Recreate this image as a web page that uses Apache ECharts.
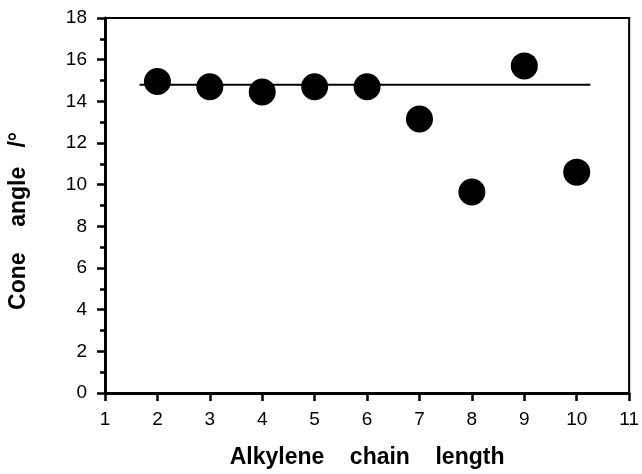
<!DOCTYPE html>
<html>
<head>
<meta charset="utf-8">
<script src="https://cdn.jsdelivr.net/npm/echarts@6/dist/echarts.min.js"></script>
<style>
  html, body { margin: 0; padding: 0; background: #fff; }
  #chart { width: 642px; height: 474px; }
</style>
</head>
<body>
<div id="chart"></div>
<script>
// 烷基链长度与锥角
const chainLength = [2, 3, 4, 5, 6, 7, 8, 9, 10]
const coneAngle = [14.95, 14.7, 14.45, 14.7, 14.7, 13.15, 9.65, 15.7, 10.6]
// 水平参考线两端
const refLineX = [1.66, 10.26]
const refLineY = [14.8, 14.8]

const font = 'Liberation Sans, Arial, Helvetica, sans-serif'
const chart = echarts.init(document.getElementById('chart'), null, { renderer: 'canvas' })

const option = {
  animation: false,
  backgroundColor: '#fff',
  grid: { left: 105, top: 18, right: 11, bottom: 80, show: true, borderColor: '#000', borderWidth: 2 },
  xAxis: {
    type: 'value',
    min: 1,
    max: 11,
    interval: 1,
    splitLine: { show: false },
    axisLine: { lineStyle: { color: '#000', width: 3 } },
    axisTick: { inside: false, length: 8, lineStyle: { color: '#000', width: 2.5 } },
    axisLabel: { color: '#000', fontSize: 19, fontFamily: font, margin: 17 },
    name: 'Alkylene    chain    length',
    nameLocation: 'middle',
    nameGap: 53,
    nameTextStyle: { color: '#000', fontSize: 23, fontWeight: 'bold', fontFamily: font }
  },
  yAxis: {
    type: 'value',
    min: 0,
    max: 18,
    interval: 2,
    splitLine: { show: false },
    axisLine: { lineStyle: { color: '#000', width: 3 } },
    axisTick: { inside: false, length: 8, lineStyle: { color: '#000', width: 2.5 } },
    minorTick: { show: true, splitNumber: 2, length: 5, lineStyle: { color: '#000', width: 2.5 } },
    axisLabel: { color: '#000', fontSize: 19, fontFamily: font, margin: 18 }
  },
  graphic: [
    {
      type: 'text',
      left: 7,
      top: 132,
      rotation: Math.PI / 2,
      style: {
        text: 'Cone    angle   /°',
        fill: '#000',
        font: 'bold 23px ' + font
      }
    }
  ],
  series: [
    {
      type: 'line',
      data: refLineX.map((x, i) => [x, refLineY[i]]),
      symbol: 'none',
      lineStyle: { color: '#000', width: 2 },
      z: 1
    },
    {
      type: 'scatter',
      data: chainLength.map((x, i) => [x, coneAngle[i]]),
      symbol: 'circle',
      symbolSize: 27,
      itemStyle: { color: '#000', opacity: 1 },
      z: 2
    }
  ]
}
chart.setOption(option)
</script>
</body>
</html>
